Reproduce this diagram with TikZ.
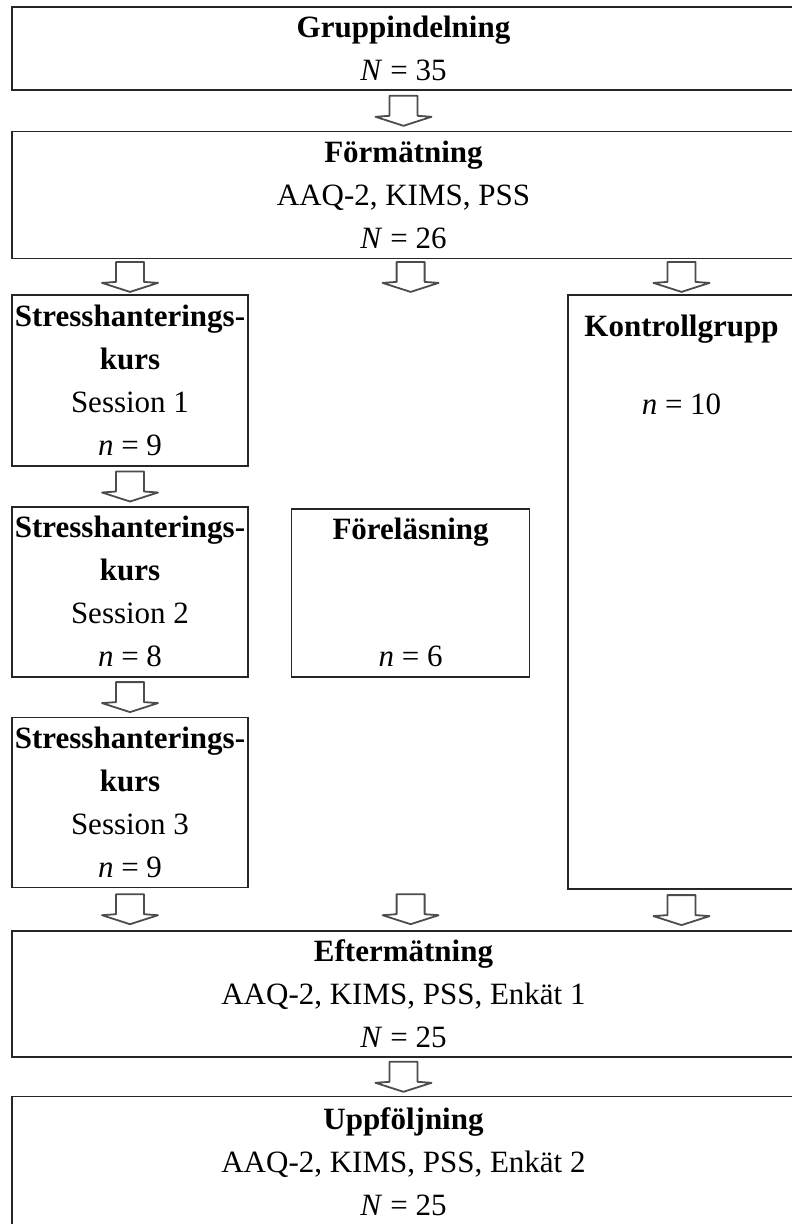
\documentclass[tikz,border=0pt]{standalone}
\usepackage{fontspec}
\setmainfont{Liberation Serif}
\usepackage{tikz}
\usetikzlibrary{positioning}
\tikzset{
  pil/.pic={\draw[black!70, line width=1.8pt, line join=round] (-14,-15) -- (-14,5) -- (-28,6) -- (0,15) -- (28,6) -- (14,5) -- (14,-15) -- cycle;}
}
\begin{document}
\begin{tikzpicture}[x=1pt, y=-1pt, every node/.style={font=\fontsize{31}{43}\selectfont},
  box/.style={draw=black!85, line width=1.6pt, inner sep=0pt, align=center},
  bred/.style={box, minimum width=783pt},
  smal/.style={box, minimum width=236pt}]
\useasboundingbox (0,0) rectangle (792,1224);
\node[bred, minimum height=83pt] (grupp) at (403.5,48.5) {\textbf{Gruppindelning}\\\textit{N} = 35};
\node[bred, minimum height=127pt, below=40pt of grupp] (form) {\textbf{Förmätning}\\AAQ-2, KIMS, PSS\\\textit{N} = 26};
\node[smal, minimum height=171pt, below=35pt of form.south west, anchor=north west] (kurs1) {\textbf{Stresshanterings-}\\\textbf{kurs}\\Session 1\\\textit{n} = 9};
\node[box, minimum width=227pt, minimum height=594pt, below=35pt of form.south east, anchor=north east] (kontroll) {};
\node[inner sep=0pt, align=center, below=20pt of kontroll.north] (kontrolltext) {\textbf{Kontrollgrupp}\\[35pt]\textit{n} = 10};
\node[smal, minimum height=170pt, below=39pt of kurs1] (kurs2) {\textbf{Stresshanterings-}\\\textbf{kurs}\\Session 2\\\textit{n} = 8};
\node[box, minimum width=238pt, minimum height=168pt, right=42pt of kurs2.south east, anchor=south west] (forel) {\textbf{Föreläsning}\\[84pt]\textit{n} = 6};
\node[smal, minimum height=170pt, below=39pt of kurs2] (kurs3) {\textbf{Stresshanterings-}\\\textbf{kurs}\\Session 3\\\textit{n} = 9};
\node[bred, minimum height=126pt, below=42pt of kurs3.south west, anchor=north west] (efter) {\textbf{Eftermätning}\\AAQ-2, KIMS, PSS, Enkät 1\\\textit{N} = 25};
\node[bred, minimum height=130pt, below=38pt of efter] (uppf) {\textbf{Uppföljning}\\AAQ-2, KIMS, PSS, Enkät 2\\\textit{N} = 25};
% pilar
\path (grupp.south) -- (form.north) pic[midway] {pil};
\path (form.south -| kurs1) -- (kurs1.north) pic[midway] {pil};
\path (form.south -| forel) -- (kurs1.north -| forel) pic[midway] {pil};
\path (form.south -| kontroll) -- (kontroll.north) pic[midway] {pil};
\path (kurs1.south) -- (kurs2.north) pic[midway] {pil};
\path (kurs2.south) -- (kurs3.north) pic[midway] {pil};
\path (kurs3.south) -- (efter.north -| kurs3) pic[midway] {pil};
\path (kurs3.south -| forel) -- (efter.north -| forel) pic[midway] {pil};
\path (kontroll.south) -- (efter.north -| kontroll) pic[midway] {pil};
\path (efter.south) -- (uppf.north) pic[midway] {pil};
\end{tikzpicture}
\end{document}
